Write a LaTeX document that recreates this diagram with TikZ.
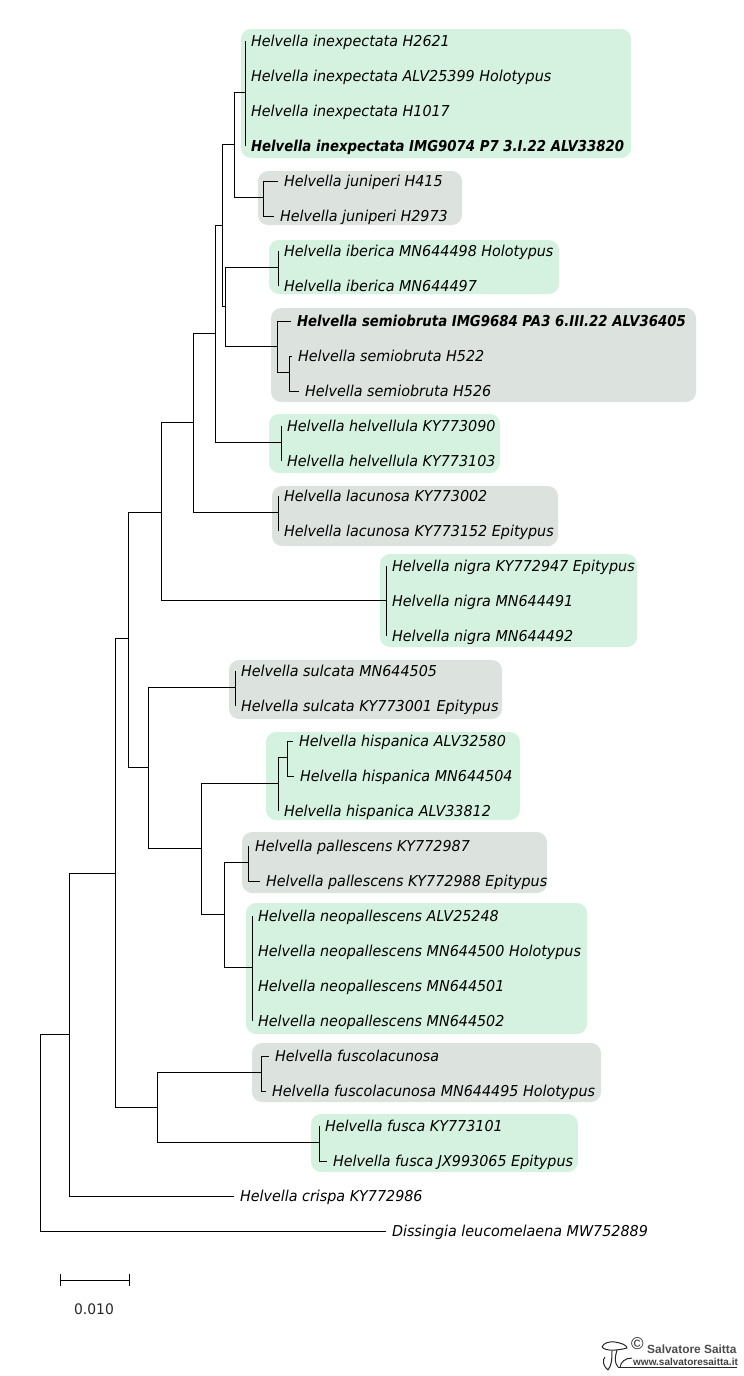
\documentclass[tikz,border=0pt]{standalone}
\usepackage{fontspec}
\setmainfont[FakeStretch=0.955,BoldItalicFeatures={FakeStretch=0.885}]{DejaVu Sans}
\newfontfamily\logofont{Liberation Sans}
\usetikzlibrary{arrows.meta}

\tikzset{
  leaf/.style={anchor=west,inner xsep=6pt,inner ysep=0pt,outer sep=0pt,text height=12.5pt,text depth=1.5pt,font=\fontsize{15}{16}\selectfont\itshape},
  boldleaf/.style={leaf,font=\fontsize{15}{16}\selectfont\itshape\bfseries},
  greenbox/.style={fill=boxgreen,rounded corners=10pt},
  greybox/.style={fill=boxgrey,rounded corners=10pt},
  branch/.style={black,line width=0.9pt},
  logoline/.style={line width=1pt,black!85,line join=round}
}
\definecolor{boxgreen}{HTML}{D5F2E0}
\definecolor{boxgrey}{HTML}{DCE3DF}

\begin{document}
\begin{tikzpicture}[x=1pt,y=-1pt]
        \useasboundingbox (0,0) rectangle (744,1376);

        % coloured groups
        \fill[greenbox] (241,29) rectangle (631,158);
        \fill[greybox] (258,171) rectangle (462,225);
        \fill[greenbox] (269,240) rectangle (559,294);
        \fill[greybox] (271,308) rectangle (696,402);
        \fill[greenbox] (269,414) rectangle (500,473);
        \fill[greybox] (272,486) rectangle (558,546);
        \fill[greenbox] (380,554) rectangle (637,647);
        \fill[greybox] (229,660) rectangle (502,719);
        \fill[greenbox] (266,732) rectangle (520,820);
        \fill[greybox] (242,832) rectangle (547,893);
        \fill[greenbox] (246,903) rectangle (587,1034);
        \fill[greybox] (252,1043) rectangle (601,1102);
        \fill[greenbox] (311,1114) rectangle (578,1172);

        % inner nodes of the tree
        \coordinate (root) at (40,1034);
        \coordinate (n1) at (69,1034);
        \coordinate (n2) at (115,873);
        \coordinate (n3) at (128,638);
        \coordinate (n4) at (161,512);
        \coordinate (n5) at (193,422);
        \coordinate (n6) at (215,333);
        \coordinate (n7) at (222,225);
        \coordinate (n8) at (234,144);
        \coordinate (inex) at (245,92);
        \coordinate (juni) at (263,197);
        \coordinate (n9) at (225,306);
        \coordinate (iber) at (278,267);
        \coordinate (semi) at (277,346);
        \coordinate (semib) at (289,372);
        \coordinate (helv) at (281,442);
        \coordinate (lacu) at (278,512);
        \coordinate (nigr) at (386,600);
        \coordinate (n10) at (148,767);
        \coordinate (sulc) at (235,687);
        \coordinate (n11) at (201,848);
        \coordinate (hisp) at (278,783);
        \coordinate (hispb) at (287,757);
        \coordinate (n12) at (224,914);
        \coordinate (pall) at (248,862);
        \coordinate (neop) at (252,967);
        \coordinate (n13) at (157,1107);
        \coordinate (fscl) at (261,1072);
        \coordinate (fusc) at (319,1142);

        % leaves
        \node[leaf] (inex1) at (245,41) {Helvella inexpectata H2621};
        \node[leaf] (inex2) at (245,76) {Helvella inexpectata ALV25399 Holotypus};
        \node[leaf] (inex3) at (245,111) {Helvella inexpectata H1017};
        \node[boldleaf] (inex4) at (245,146) {Helvella inexpectata IMG9074 P7 3.I.22 ALV33820};
        \node[leaf] (juni1) at (278,181) {Helvella juniperi H415};
        \node[leaf] (juni2) at (274,216) {Helvella juniperi H2973};
        \node[leaf] (iber1) at (278,251) {Helvella iberica MN644498 Holotypus};
        \node[leaf] (iber2) at (278,286) {Helvella iberica MN644497};
        \node[boldleaf] (semi1) at (291,321) {Helvella semiobruta IMG9684 PA3 6.III.22 ALV36405};
        \node[leaf] (semi2) at (292,356) {Helvella semiobruta H522};
        \node[leaf] (semi3) at (299,391) {Helvella semiobruta H526};
        \node[leaf] (helv1) at (281,426) {Helvella helvellula KY773090};
        \node[leaf] (helv2) at (281,461) {Helvella helvellula KY773103};
        \node[leaf] (lacu1) at (278,496) {Helvella lacunosa KY773002};
        \node[leaf] (lacu2) at (278,531) {Helvella lacunosa KY773152 Epitypus};
        \node[leaf] (nigr1) at (386,566) {Helvella nigra KY772947 Epitypus};
        \node[leaf] (nigr2) at (386,601) {Helvella nigra MN644491};
        \node[leaf] (nigr3) at (386,636) {Helvella nigra MN644492};
        \node[leaf] (sulc1) at (235,671) {Helvella sulcata MN644505};
        \node[leaf] (sulc2) at (235,706) {Helvella sulcata KY773001 Epitypus};
        \node[leaf] (hisp1) at (293,741) {Helvella hispanica ALV32580};
        \node[leaf] (hisp2) at (294,776) {Helvella hispanica MN644504};
        \node[leaf] (hisp3) at (278,811) {Helvella hispanica ALV33812};
        \node[leaf] (pall1) at (249,846) {Helvella pallescens KY772987};
        \node[leaf] (pall2) at (260,881) {Helvella pallescens KY772988 Epitypus};
        \node[leaf] (neop1) at (252,916) {Helvella neopallescens ALV25248};
        \node[leaf] (neop2) at (252,951) {Helvella neopallescens MN644500 Holotypus};
        \node[leaf] (neop3) at (252,986) {Helvella neopallescens MN644501};
        \node[leaf] (neop4) at (252,1021) {Helvella neopallescens MN644502};
        \node[leaf] (fscl1) at (269,1056) {Helvella fuscolacunosa};
        \node[leaf] (fscl2) at (266,1091) {Helvella fuscolacunosa MN644495 Holotypus};
        \node[leaf] (fusc1) at (319,1126) {Helvella fusca KY773101};
        \node[leaf] (fusc2) at (327,1161) {Helvella fusca JX993065 Epitypus};
        \node[leaf] (cris) at (234,1196) {Helvella crispa KY772986};
        \node[leaf] (diss) at (386,1231) {Dissingia leucomelaena MW752889};

        % branches
        \foreach \from/\to in {root/n1,root/diss.west,n1/n2,n1/cris.west,n2/n3,n2/n13,
            n3/n4,n3/n10,n4/n5,n4/nigr,n5/n6,n5/lacu,n6/n7,n6/helv,n7/n8,n7/n9,
            n8/inex,n8/juni,n9/iber,n9/semi,semi/semi1.west,semi/semib,
            semib/semi2.west,semib/semi3.west,
            inex/inex1.west,inex/inex4.west,juni/juni1.west,juni/juni2.west,
            iber/iber1.west,iber/iber2.west,helv/helv1.west,helv/helv2.west,
            lacu/lacu1.west,lacu/lacu2.west,nigr/nigr1.west,nigr/nigr3.west,
            n10/sulc,n10/n11,sulc/sulc1.west,sulc/sulc2.west,n11/hisp,n11/n12,
            hisp/hispb,hisp/hisp3.west,hispb/hisp1.west,hispb/hisp2.west,
            n12/pall,n12/neop,pall/pall1.west,pall/pall2.west,
            neop/neop1.west,neop/neop4.west,n13/fscl,n13/fusc,
            fscl/fscl1.west,fscl/fscl2.west,fusc/fusc1.west,fusc/fusc2.west}
          \draw[branch] (\from) |- (\to);

        % scale
        \coordinate (barl) at (60,1280);
        \coordinate (barr) at (130,1280);
        \draw[branch,{Bar[width=12pt]}-{Bar[width=12pt]}] (barl) -- (barr);
        \node[font=\fontsize{14.5}{16}\selectfont,text=black!85] (barlabel) at (94,1309) {0.010};

        % logo
        \draw[logoline] (602,1347) .. controls (603,1343) and (610,1341) .. (615,1342)
          .. controls (621,1343) and (627,1345) .. (627,1348)
          .. controls (620,1350) and (606,1352) .. (602,1347);
        \draw[logoline] (612,1351) .. controls (612,1358) and (612,1365) .. (608,1370);
        \draw[logoline] (617,1350) .. controls (615,1357) and (614,1362) .. (618,1367);
        \draw[logoline] (605,1357) .. controls (602,1360) and (603,1366) .. (608,1370);
        \draw[logoline] (620,1367) .. controls (621,1362) and (625,1358) .. (632,1358);
        \draw[logoline] (618,1367) -- (737,1367);
        \node[anchor=west,inner sep=0pt,font=\fontsize{17}{18}\selectfont\logofont,text=black!85] (logomark) at (631,1344) {©};
        \node[anchor=west,inner sep=0pt,font=\fontsize{11.9}{14}\selectfont\logofont\bfseries,text=black!70] (logoname) at (647,1349) {Salvatore Saitta};
        \node[anchor=west,inner sep=0pt,font=\fontsize{10}{12}\selectfont\logofont\bfseries,text=black!75] (logoweb) at (633,1362) {www.salvatoresaitta.it};
      \end{tikzpicture}
\end{document}
